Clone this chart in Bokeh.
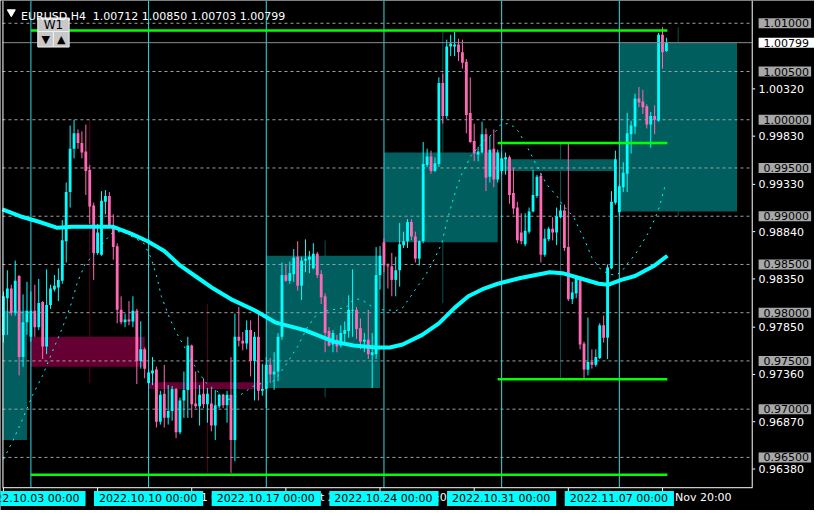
from bokeh.plotting import figure
from bokeh.models import Range1d, Label, ColumnDataSource
from bokeh.embed import file_html
from bokeh.resources import INLINE

# ---------------- data (EURUSD H4) ----------------
bars = list(range(-7, 163))
open_ = [0.9777,0.9815,0.9825,0.9800,0.9838,0.9754,0.9790,
 0.9775,0.9802,0.9785,0.9811,0.9765,0.9808,0.9824,0.9826,0.9833,0.9874,0.9925,0.9970,0.9986,0.9976,0.9967,0.9948,0.9911,0.9862,0.9860,0.9915,0.9921,0.9890,0.9869,0.9803,0.9790,0.9793,0.9791,0.9802,0.9750,0.9762,
 0.9727,0.9737,0.9741,0.9687,0.9716,0.9691,0.9698,0.9721,0.9676,0.9709,0.9720,0.9766,0.9706,0.9703,0.9716,0.9705,0.9706,0.9683,0.9703,0.9715,0.9704,0.9715,0.9668,0.9775,0.9771,0.9768,0.9782,0.9750,0.9775,0.9719,
 0.9721,0.9746,0.9736,0.9739,0.9775,0.9839,0.9833,0.9840,0.9858,0.9828,0.9854,0.9855,0.9846,0.9861,0.9840,0.9817,0.9781,0.9767,0.9772,0.9766,0.9778,0.9781,0.9802,0.9803,0.9784,0.9770,0.9772,0.9756,0.9757,0.9839,
 0.9873,0.9849,0.9848,0.9834,0.9844,0.9870,0.9874,0.9894,0.9879,0.9856,0.9874,0.9953,0.9962,0.9947,0.9954,1.0038,1.0004,1.0076,1.0076,1.0078,1.0070,1.0060,1.0007,0.9978,0.9964,0.9966,0.9985,0.9941,0.9970,0.9938,
 0.9947,0.9959,0.9961,0.9924,0.9909,0.9883,0.9871,0.9884,0.9905,0.9921,0.9942,0.9860,0.9876,0.9887,0.9883,0.9899,0.9906,0.9868,0.9814,0.9820,0.9835,0.9768,0.9741,0.9749,0.9746,0.9753,0.9787,0.9774,0.9846,0.9914,
 0.9904,0.9930,0.9944,0.9985,0.9993,1.0022,1.0019,1.0014,0.9995,1.0004,0.9999,1.0088,1.00712]
high = [0.9822,0.9844,0.9829,0.9854,0.9839,0.9819,0.9832,
 0.9822,0.9829,0.9835,0.9812,0.9845,0.9829,0.9839,0.9846,0.9896,0.9935,0.9994,1.0000,0.9990,0.9988,0.9995,0.9953,0.9914,0.9892,0.9926,0.9927,0.9925,0.9902,0.9872,0.9817,0.9799,0.9812,0.9817,0.9804,0.9791,0.9764,
 0.9740,0.9754,0.9744,0.9719,0.9746,0.9725,0.9724,0.9722,0.9712,0.9739,0.9775,0.9767,0.9739,0.9725,0.9732,0.9722,0.9722,0.9720,0.9716,0.9716,0.9719,0.9754,0.9799,0.9806,0.9780,0.9792,0.9792,0.9780,0.9800,0.9747,
 0.9754,0.9753,0.9759,0.9779,0.9852,0.9850,0.9853,0.9866,0.9874,0.9858,0.9876,0.9864,0.9872,0.9863,0.9844,0.9820,0.9785,0.9782,0.9777,0.9787,0.9791,0.9818,0.9845,0.9806,0.9794,0.9779,0.9803,0.9779,0.9868,0.9869,
 0.9877,0.9851,0.9862,0.9858,0.9893,0.9884,0.9897,0.9897,0.9884,0.9875,0.9977,0.9970,0.9968,0.9961,1.0044,1.0048,1.0083,1.0088,1.0091,1.0084,1.0083,1.0063,1.0044,0.9996,0.9972,0.9998,0.9991,0.9983,0.9990,0.9969,
 0.9966,0.9966,0.9963,0.9950,0.9915,0.9903,0.9903,0.9909,0.9948,0.9943,0.9945,0.9887,0.9889,0.9899,0.9909,0.9912,0.9912,0.9976,0.9832,0.9839,0.9837,0.9770,0.9795,0.9762,0.9762,0.9789,0.9797,0.9850,0.9926,0.9968,
 0.9933,0.9956,1.0007,0.9999,1.0027,1.0034,1.0031,1.0016,1.0008,1.0015,1.0090,1.0096,1.00850]
low = [0.9769,0.9777,0.9797,0.9797,0.9735,0.9744,0.9777,
 0.9770,0.9775,0.9782,0.9752,0.9757,0.9804,0.9822,0.9812,0.9830,0.9852,0.9909,0.9960,0.9970,0.9960,0.9922,0.9892,0.9834,0.9860,0.9859,0.9902,0.9889,0.9855,0.9789,0.9788,0.9785,0.9787,0.9785,0.9726,0.9742,0.9732,
 0.9726,0.9725,0.9681,0.9684,0.9681,0.9684,0.9688,0.9670,0.9674,0.9691,0.9691,0.9691,0.9701,0.9683,0.9701,0.9686,0.9677,0.9668,0.9701,0.9701,0.9686,0.9634,0.9646,0.9765,0.9761,0.9762,0.9734,0.9709,0.9709,0.9714,
 0.9701,0.9727,0.9720,0.9729,0.9772,0.9832,0.9830,0.9832,0.9823,0.9813,0.9842,0.9841,0.9845,0.9836,0.9809,0.9759,0.9765,0.9759,0.9759,0.9764,0.9769,0.9774,0.9775,0.9773,0.9762,0.9759,0.9752,0.9722,0.9752,0.9824,
 0.9842,0.9825,0.9817,0.9817,0.9827,0.9867,0.9867,0.9875,0.9852,0.9849,0.9872,0.9951,0.9944,0.9946,0.9951,0.9996,1.0001,1.0066,1.0066,1.0061,1.0053,0.9986,0.9976,0.9957,0.9957,0.9965,0.9926,0.9935,0.9930,0.9935,
 0.9943,0.9943,0.9913,0.9902,0.9872,0.9871,0.9869,0.9882,0.9904,0.9919,0.9852,0.9858,0.9874,0.9875,0.9870,0.9898,0.9864,0.9812,0.9809,0.9815,0.9762,0.9732,0.9735,0.9742,0.9744,0.9752,0.9769,0.9752,0.9845,0.9912,
 0.9900,0.9925,0.9925,0.9965,0.9985,1.0013,1.0006,0.9991,0.9971,0.9985,0.9998,1.0053,1.00703]
close = [0.9817,0.9825,0.9800,0.9833,0.9754,0.9790,0.9802,
 0.9802,0.9785,0.9810,0.9765,0.9808,0.9825,0.9828,0.9834,0.9875,0.9925,0.9970,0.9986,0.9976,0.9966,0.9947,0.9910,0.9862,0.9883,0.9916,0.9921,0.9890,0.9868,0.9803,0.9790,0.9793,0.9791,0.9802,0.9750,0.9762,0.9742,
 0.9738,0.9740,0.9687,0.9715,0.9691,0.9698,0.9721,0.9676,0.9709,0.9720,0.9766,0.9705,0.9703,0.9715,0.9705,0.9716,0.9683,0.9704,0.9715,0.9704,0.9715,0.9668,0.9775,0.9771,0.9768,0.9782,0.9750,0.9775,0.9719,0.9721,
 0.9746,0.9736,0.9739,0.9775,0.9839,0.9833,0.9841,0.9857,0.9828,0.9854,0.9856,0.9858,0.9861,0.9839,0.9816,0.9779,0.9766,0.9779,0.9765,0.9779,0.9782,0.9803,0.9803,0.9783,0.9770,0.9772,0.9757,0.9759,0.9839,0.9859,
 0.9849,0.9848,0.9834,0.9844,0.9871,0.9874,0.9894,0.9879,0.9856,0.9874,0.9954,0.9962,0.9947,0.9955,1.0038,1.0004,1.0076,1.0079,1.0078,1.0070,1.0059,1.0005,0.9977,0.9965,0.9967,0.9985,0.9940,0.9969,0.9938,0.9966,
 0.9960,0.9961,0.9922,0.9908,0.9875,0.9874,0.9885,0.9905,0.9922,0.9941,0.9860,0.9877,0.9887,0.9883,0.9900,0.9906,0.9867,0.9814,0.9821,0.9835,0.9767,0.9741,0.9749,0.9746,0.9754,0.9787,0.9774,0.9847,0.9915,0.9959,
 0.9931,0.9945,0.9986,0.9994,1.0022,1.0018,1.0013,0.9995,1.0004,1.0000,1.0088,1.0070,1.00799]

# weekly candles (boxes)
wk_start = [-30, 0, 30, 60, 90, 120, 150]
wk_end = [-1, 29, 59, 89, 119, 149, 180]
wk_open = [0.9668, 0.9775, 0.9728, 0.9722, 0.9873, 0.9947, 0.9905]
wk_close = [0.9802, 0.9744, 0.9721, 0.9859, 0.9966, 0.9959, 1.00799]
wk_high = [0.9853, 1.0000, 0.9809, 0.9875, 1.0091, 0.9975, 1.0096]
wk_low = [0.9536, 0.9727, 0.9634, 0.9712, 0.9810, 0.9732, 0.9900]

# slow moving average (thick)
ma_x = [-7.25,-2.75,2.25,6.75,10.5,21,25.5,29.75,34,38,42.25,46.5,51.5,57.25,62.25,69.75,77.25,82.25,88,91.5,94.75,99.75,104,108,111.5,115.5,119,124.75,132.25,135.5,139.75,144.75,147.25,150.5,154,159,162.25]
ma_y = [0.9907,0.9900,0.9894,0.9888,0.9889,0.9889,0.9882,0.9874,0.9864,0.9849,0.9837,0.9825,0.9813,0.9802,0.9790,0.9782,0.9770,0.9766,0.9764,0.9764,0.9767,0.9777,0.9789,0.9805,0.9817,0.9825,0.9830,0.9836,0.9842,0.9841,0.9836,0.9830,0.9829,0.9834,0.9838,0.9849,0.9859]

# fast moving average (dotted)
dot_x = [-7,-4.5,-2,0.5,3,5.5,8,10.25,11.75,13.75,15.75,19,20.5,22.25,24,28.75,30.5,32,33.25,35.5,37,38.5,40.25,41.75,43.25,44.75,46.25,48,50.5,53.5,56.75,59,61.5,63.5,65.5,68,70.5,73,75.5,78,80.25,82.25,84,86,88,90.5,93,94.75,96.5,98,99.75,101.5,103,104.75,106,107.25,108.5,109.75,111,112.25,114,116,118.5,119.75,121.5,123,124.25,125.25,126.75,128,129.75,131.5,132.75,134.25,135.5,137.25,138.5,139.75,141.5,143,145.25,147.25,149,150.5,152.25,154,155.5,157.25,159,160.25,161.75]
dot_y = [0.9648,0.9668,0.9691,0.9715,0.9735,0.9760,0.9784,0.9809,0.9830,0.9850,0.9859,0.9875,0.9882,0.9884,0.9883,0.9872,0.9858,0.9839,0.9817,0.9793,0.9780,0.9769,0.9757,0.9745,0.9735,0.9727,0.9722,0.9717,0.9710,0.9715,0.9724,0.9727,0.9728,0.9737,0.9749,0.9765,0.9785,0.9799,0.9802,0.9804,0.9805,0.9814,0.9814,0.9809,0.9803,0.9803,0.9802,0.9805,0.9815,0.9824,0.9834,0.9845,0.9857,0.9872,0.9894,0.9912,0.9929,0.9943,0.9953,0.9963,0.9971,0.9980,0.9988,0.9995,0.9996,0.9993,0.9988,0.9981,0.9970,0.9960,0.9946,0.9933,0.9927,0.9920,0.9912,0.9904,0.9898,0.9887,0.9872,0.9857,0.9845,0.9840,0.9839,0.9842,0.9852,0.9860,0.9870,0.9882,0.9897,0.9910,0.9933]

# horizontal levels (green)
lvl_price = [1.00925, 0.9632, 0.9976, 0.9731]
lvl_start = [0, 0, 119, 119]
lvl_end = [162.25, 162.25, 162.25, 162.25]

grid_levels = [1.010, 1.005, 1.000, 0.995, 0.990, 0.985, 0.980, 0.975, 0.970, 0.965]
native_levels = [1.0032, 0.9983, 0.9933, 0.9884, 0.9835, 0.9785, 0.9736, 0.9687, 0.9638]
last_price = 1.00799

sep_bars = [0, 30, 60, 90, 120, 150]
sep_texts = ["2022.10.03 00:00", "2022.10.10 00:00", "2022.10.17 00:00",
             "2022.10.24 00:00", "2022.10.31 00:00", "2022.11.07 00:00"]
tick_bars = [-7, 17, 41, 65, 89, 113, 137, 161]
tick_texts = ["29 Sep 20:00", "5 Oct 20:00", "11 Oct 20:00", "17 Oct 20:00",
              "21 Oct 20:00", "27 Oct 20:00", "2 Nov 20:00", "8 Nov 20:00"]
header_symbol = "EURUSD,H4"

# ---------------- layout ----------------
# the whole canvas is the frame; reference pixel (xr, yr) -> data via dx/dy
W, H = 814, 510
REF_W, REF_H = 830.0, 526.0
X_LO = -31 / 4.0
X_HI = (REF_W - 31) / 4.0
PX_PRICE = 0.0001005
Y_HI = 1.01236
Y_LO = Y_HI - REF_H * PX_PRICE
FONT = "DejaVu Sans"

def dx(xr):
    return X_LO + xr * (X_HI - X_LO) / REF_W

def dy(yr):
    return Y_HI - yr * (Y_HI - Y_LO) / REF_H

PL, PR = dx(2), dx(766)
PB, PT = dy(502), dy(0)

p = figure(width=W, height=H, x_range=Range1d(X_LO, X_HI), y_range=Range1d(Y_LO, Y_HI),
           output_backend="svg", toolbar_location=None,
           x_axis_location=None, y_axis_location=None,
           background_fill_color="black", border_fill_color="black",
           min_border_left=0, min_border_right=0, min_border_top=0, min_border_bottom=0)
p.outline_line_color = None
p.xgrid.visible = False
p.ygrid.visible = False

TEAL = "#005e5e"
MAROON = "#660033"

# weekly wicks and bodies
wk_col = [TEAL if c >= o else MAROON for o, c in zip(wk_open, wk_close)]
wk_wcol = ["#0b5050" if c >= o else "#55002b" for o, c in zip(wk_open, wk_close)]
wk_mid = [s + 15 for s in wk_start]
wk_left = [max(s, PL) for s in wk_start]
p.segment(x0=wk_mid, x1=wk_mid, y0=wk_low, y1=wk_high, line_color=wk_wcol, line_width=1)
p.quad(left=wk_left, right=wk_end, top=[max(o, c) for o, c in zip(wk_open, wk_close)],
       bottom=[min(o, c) for o, c in zip(wk_open, wk_close)], fill_color=wk_col, line_color=None)

# grid
n = len(grid_levels)
p.segment(x0=[PL] * n, x1=[PR] * n, y0=grid_levels, y1=grid_levels,
          line_color="#a0a0a0", line_dash="3 3", line_width=1)
# week separators
m = len(sep_bars)
p.segment(x0=sep_bars, x1=sep_bars, y0=[PB] * m, y1=[PT] * m, line_color="#30dce6", line_width=1)

# candles
col = ["#00ffff" if c >= o else "#ff69b4" for o, c in zip(open_, close)]
top = [max(o, c) for o, c in zip(open_, close)]
bot = [min(o, c) for o, c in zip(open_, close)]
top = [t if t - b >= 0.00008 else b + 0.00008 for t, b in zip(top, bot)]
src = ColumnDataSource(dict(x=bars, h=high, l=low, top=top, bot=bot, col=col))
p.segment(x0="x", x1="x", y0="l", y1="h", line_color="col", line_width=1, source=src)
p.vbar(x="x", width=0.72, top="top", bottom="bot", fill_color="col", line_color=None, source=src)

# current price line
p.segment(x0=[PL], x1=[PR], y0=[last_price], y1=[last_price], line_color="#8c8c8c", line_width=1)

# moving averages
p.line(ma_x, ma_y, line_color="#00ffff", line_width=4)
p.line(dot_x, dot_y, line_color="#00ffff", line_width=1, line_dash="2 5")

# green levels
p.segment(x0=lvl_start, x1=lvl_end, y0=lvl_price, y1=lvl_price, line_color="#00ff00", line_width=2.5)

# frame borders (left, right, bottom)
p.segment(x0=[dx(2.5), dx(766.5), dx(2)], x1=[dx(2.5), dx(766.5), dx(767)],
          y0=[PB, PB, dy(502.5)], y1=[PT, PT, dy(502.5)], line_color="white", line_width=1)
# price scale ticks and time scale ticks
k = len(native_levels)
p.segment(x0=[dx(767)] * k, x1=[dx(769.5)] * k, y0=native_levels, y1=native_levels,
          line_color="white", line_width=1)
t = len(tick_bars)
p.segment(x0=tick_bars, x1=tick_bars, y0=[dy(502.5)] * t, y1=[dy(506)] * t,
          line_color="white", line_width=1)

# header triangle and W1 buttons
p.scatter(x=[dx(11)], y=[dy(12)], marker="inverted_triangle", size=8, color="white")
p.quad(left=[dx(38)], right=[dx(70)], top=[dy(18)], bottom=[dy(32)],
       fill_color="#c8c8c8", line_color="#eeeeee", line_width=1)
p.quad(left=[dx(38), dx(54)], right=[dx(54), dx(70)], top=[dy(32), dy(32)], bottom=[dy(48), dy(48)],
       fill_color="#c8c8c8", line_color="#eeeeee", line_width=1)

def lab(x, y, text, color="white", align="left", baseline="middle", size="11px", **kw):
    p.add_layout(Label(x=x, y=y, text=text, text_color=color, text_align=align,
                       text_baseline=baseline, text_font=FONT, text_font_size=size, **kw))

lab(dx(21), dy(16.5), header_symbol, baseline="alphabetic")
lab(dx(94), dy(16.5), " ".join("%.5f" % v for v in (open_[-1], high[-1], low[-1], close[-1])),
    baseline="alphabetic")
lab(dx(54), dy(25), "W1", color="black", align="center", size="12px")
lab(dx(46), dy(40), "\u25bc", color="black", align="center", size="11px")
lab(dx(62), dy(40), "\u25b2", color="black", align="center", size="11px")

# native price scale labels
for v in native_levels:
    lab(dx(773), v, "%.5f" % v)

# time labels (behind the cyan week labels)
for b, tt in zip(tick_bars, tick_texts):
    lab(b + 0.5, dy(506), tt, baseline="top")
for b, tt in zip(sep_bars, sep_texts):
    lab(b, dy(506), tt, color="black", align="center", baseline="top",
        background_fill_color="#00ffff", padding=dict(left=5, right=6, top=1, bottom=1))

# price boxes on the right scale
for g in grid_levels:
    lab(dx(773), g, "%.5f" % g, color="#000000",
        background_fill_color="#a8a8a8", padding=dict(left=5, right=2, top=1, bottom=1))
lab(dx(773), last_price, "%.5f" % last_price, color="black",
    background_fill_color="white", padding=dict(left=5, right=5, top=1, bottom=1))

open("out.html", "w").write(file_html(p, INLINE))
